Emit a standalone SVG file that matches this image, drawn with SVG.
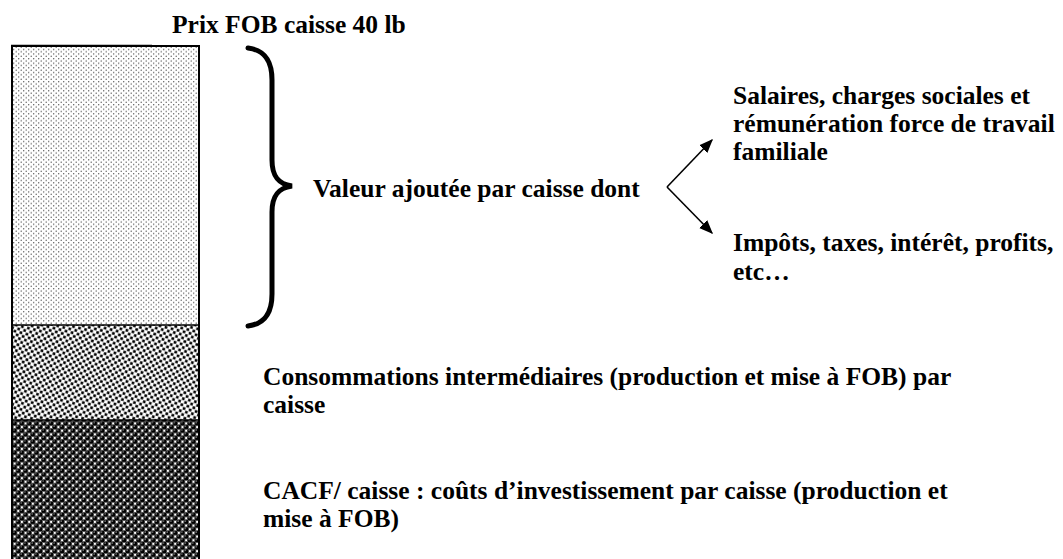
<svg xmlns="http://www.w3.org/2000/svg" width="1063" height="559" viewBox="0 0 1063 559">
<style>
text{font-family:"Liberation Serif","Times New Roman",serif;font-weight:bold;font-size:25.5px;fill:#000}
.conn{stroke:#000;stroke-width:1.6;fill:none}
</style>
<defs>
<pattern id="pLight" width="5" height="4.6" patternUnits="userSpaceOnUse">
<rect width="5" height="4.6" fill="#fff"/>
<circle cx="1.2" cy="1.1" r="0.7" fill="#4a4a4a"/>
<circle cx="3.7" cy="3.4" r="0.7" fill="#4a4a4a"/>
</pattern>
<pattern id="pMid" width="6.2" height="6.2" patternUnits="userSpaceOnUse" patternTransform="rotate(14)">
<rect width="6.2" height="6.2" fill="#fff"/>
<rect x="0.2" y="0.2" width="2.7" height="2.7" fill="#000"/>
<rect x="3.3" y="3.3" width="2.7" height="2.7" fill="#000"/>
</pattern>
<pattern id="pDark" width="7.3" height="7.3" patternUnits="userSpaceOnUse">
<rect width="7.3" height="7.3" fill="#fff"/>
<circle cx="0" cy="0" r="2.55" fill="#000"/>
<circle cx="7.3" cy="0" r="2.55" fill="#000"/>
<circle cx="0" cy="7.3" r="2.55" fill="#000"/>
<circle cx="7.3" cy="7.3" r="2.55" fill="#000"/>
<circle cx="3.65" cy="3.65" r="2.55" fill="#000"/>
<circle cx="2.9" cy="2.9" r="0.75" fill="#8a8a8a"/>
<circle cx="6.55" cy="6.55" r="0.75" fill="#8a8a8a"/>
</pattern>
<marker id="ah" viewBox="0 0 10 10" refX="9" refY="5" markerWidth="14" markerHeight="14" markerUnits="userSpaceOnUse" orient="auto">
<path d="M0,1 L10,5 L0,9 z" fill="#000"/>
</marker>
</defs>
<g id="bar">
<rect x="12" y="46" width="187" height="279" fill="url(#pLight)"/>
<rect x="12" y="325" width="187" height="95" fill="url(#pMid)"/>
<rect x="12" y="420" width="187" height="139" fill="url(#pDark)"/>
<path d="M12,560 V46 H199 V560" fill="none" stroke="#000" stroke-width="2"/>
<line x1="11" y1="45.5" x2="152" y2="45.5" stroke="#000" stroke-width="1.5"/>
<line x1="12" y1="325" x2="199" y2="325" stroke="#000" stroke-width="1.5"/>
<line x1="12" y1="420" x2="199" y2="420" stroke="#000" stroke-width="1.5"/>
</g>
<g id="brace">
<path d="M248,48 C264,50 272,60 272,80 V160 C272,176 278,184 292,186 C278,188 272,196 272,212 V294 C272,314 264,324 248,326" fill="none" stroke="#000" stroke-width="5" stroke-linecap="round"/>
</g>
<g id="title"><text x="172" y="33">Prix FOB caisse 40 lb</text></g>
<g id="valeur"><text x="313" y="197">Valeur ajoutée par caisse dont</text></g>
<g id="salaires"><text x="733" y="104">Salaires, charges sociales et</text><text x="733" y="132">rémunération force de travail</text><text x="733" y="160">familiale</text></g>
<g id="impots"><text x="733" y="251">Impôts, taxes, intérêt, profits,</text><text x="733" y="280">etc…</text></g>
<g id="conso"><text x="263" y="385">Consommations intermédiaires (production et mise à FOB) par</text><text x="263" y="413">caisse</text></g>
<g id="cacf"><text x="263" y="499">CACF/ caisse : coûts d’investissement par caisse (production et</text><text x="263" y="527">mise à FOB)</text></g>
<g id="connectors">
<line class="conn" x1="667" y1="187" x2="712" y2="140" marker-end="url(#ah)"/>
<line class="conn" x1="667" y1="187" x2="712" y2="233" marker-end="url(#ah)"/>
</g>
</svg>
